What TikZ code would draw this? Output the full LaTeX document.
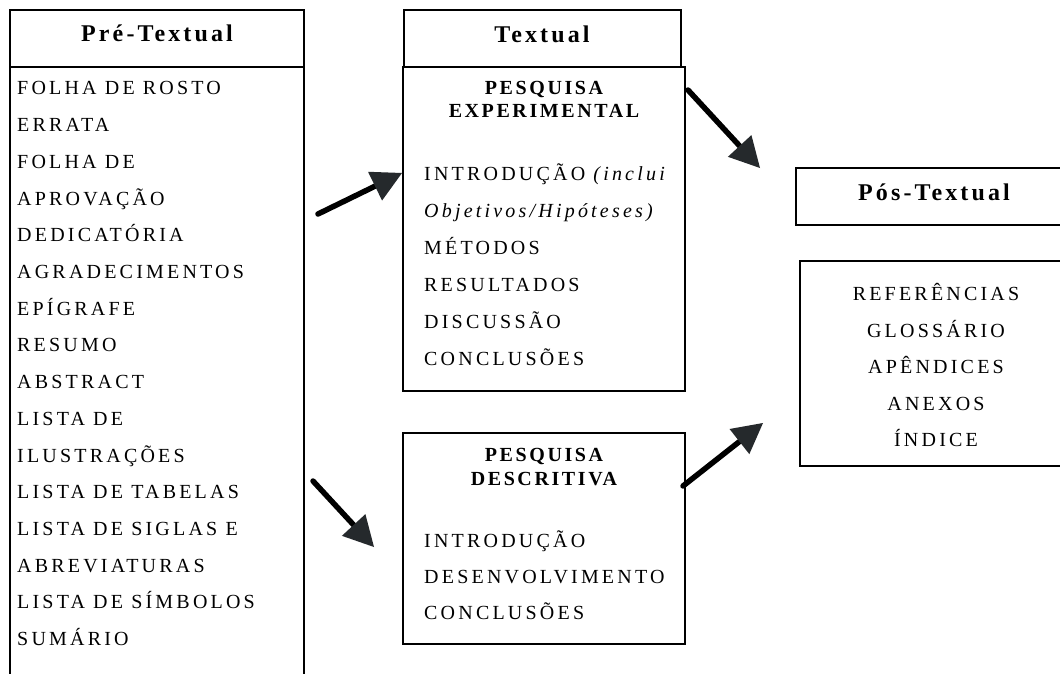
\documentclass[tikz,border=0pt]{standalone}
\usepackage{fontspec}
\setmainfont{Liberation Serif}
\newfontfamily\lsfont[LetterSpace=16]{Liberation Serif}
\newfontfamily\hdfont[LetterSpace=13]{Liberation Serif}
\usetikzlibrary{arrows.meta}
\definecolor{tipgray}{HTML}{25292C}
\begin{document}
\begin{tikzpicture}[x=1pt,y=-1pt,
  box/.style={draw=black, line width=1.6pt, inner sep=0pt, anchor=north west},
  item/.style={anchor=base west, inner sep=0pt, font=\lsfont\fontsize{20}{24}\selectfont},
  citem/.style={anchor=base, inner sep=0pt, font=\lsfont\fontsize{20}{24}\selectfont},
  head/.style={anchor=base, inner sep=0pt, font=\hdfont\bfseries\fontsize{24}{28}\selectfont},
  sub/.style={anchor=base, inner sep=0pt, font=\hdfont\bfseries\fontsize{20}{24}\selectfont},
  flow/.style={line width=5.5pt, line cap=round, draw=black, -{Triangle[length=30pt,width=32pt,color=tipgray,line width=0pt]}}
]
\path[use as bounding box] (0,0) rectangle (1060,674);
\clip (0,0) rectangle (1060,674);
\fill[white] (0,0) rectangle (1060,674);

% Pre-Textual
\node[box, minimum width=294pt, minimum height=57pt] (prehead) at (9,9) {};
\node[head] (pretitle) at (157,42) {Pré-Textual};
\node[box, minimum width=294pt, minimum height=640pt] (prelist) at (9,66) {};
\foreach \t [count=\i] in {FOLHA DE ROSTO, ERRATA, FOLHA DE, APROVAÇÃO, DEDICATÓRIA, AGRADECIMENTOS, EPÍGRAFE, RESUMO, ABSTRACT, LISTA DE, ILUSTRAÇÕES, LISTA DE TABELAS, LISTA DE SIGLAS E, ABREVIATURAS, LISTA DE SÍMBOLOS, SUMÁRIO}
  \node[item] (p\i) at (17,{95+36.7*(\i-1)}) {\t};

% Textual
\node[box, minimum width=277pt, minimum height=57pt] (texhead) at (403,9) {};
\node[head] (textitle) at (542,43) {Textual};
\node[box, minimum width=282pt, minimum height=324pt] (expbox) at (402,66) {};
\node[sub] (e1) at (544,95) {PESQUISA};
\node[sub] (e2) at (544,118) {EXPERIMENTAL};
\node[item] (e3) at (424,180) {INTRODUÇÃO {\itshape (inclui}};
\node[item] (e4) at (424,217) {\itshape Objetivos/Hipóteses)};
\node[item] (e5) at (424,254) {MÉTODOS};
\node[item] (e6) at (424,291) {RESULTADOS};
\node[item] (e7) at (424,328) {DISCUSSÃO};
\node[item] (e8) at (424,365) {CONCLUSÕES};

\node[box, minimum width=282pt, minimum height=211pt] (desbox) at (402,432) {};
\node[sub] (d1) at (544,461) {PESQUISA};
\node[sub] (d2) at (544,485) {DESCRITIVA};
\node[item] (d3) at (424,547) {INTRODUÇÃO};
\node[item] (d4) at (424,583) {DESENVOLVIMENTO};
\node[item] (d5) at (424,619) {CONCLUSÕES};

% Pos-Textual
\node[box, minimum width=290pt, minimum height=57pt] (poshead) at (795,167) {};
\node[head] (postitle) at (934,200) {Pós-Textual};
\node[box, minimum width=290pt, minimum height=205pt] (poslist) at (799,260) {};
\foreach \t [count=\i] in {REFERÊNCIAS, GLOSSÁRIO, APÊNDICES, ANEXOS, ÍNDICE}
  \node[citem] (q\i) at (936,{300.7+36.5*(\i-1)}) {\t};

% arrows
\coordinate (a1s) at (318,214); \coordinate (a1e) at (402,173);
\coordinate (a2s) at (313,481); \coordinate (a2e) at (374,547);
\coordinate (a3s) at (688,90);  \coordinate (a3e) at (760,168);
\coordinate (a4s) at (683,486); \coordinate (a4e) at (763,423);
\draw[flow] (a1s) -- (a1e);
\draw[flow] (a2s) -- (a2e);
\draw[flow] (a3s) -- (a3e);
\draw[flow] (a4s) -- (a4e);
\end{tikzpicture}
\end{document}
